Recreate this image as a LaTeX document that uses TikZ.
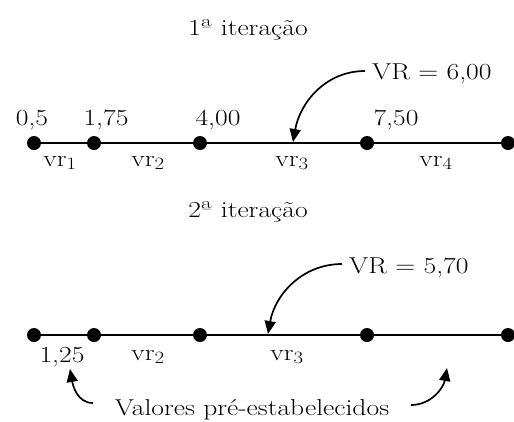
\documentclass[tikz,border=0pt]{standalone}
\usepackage{graphicx}
\usetikzlibrary{arrows.meta}
\newcommand{\wtxt}[1]{\scalebox{1.2}[1]{#1}}
\begin{document}
\begin{tikzpicture}[x=1pt,y=-1pt,
  dot/.style={circle,fill=black,inner sep=0pt,minimum size=14pt},
  lbl/.style={font=\fontsize{23}{26}\selectfont,inner sep=0pt},
  axis/.style={line width=1.8pt},
  curvearrow/.style={line width=1.7pt,-{Triangle[length=13pt,width=11pt]}}]
\useasboundingbox (0,0) rectangle (514,421);
% ---- first iteration
\node[lbl] (t1) at (248,30) {\wtxt{1ª iteração}};
\node[dot] (a1) at (34,143) {};
\node[dot] (a2) at (94,143) {};
\node[dot] (a3) at (200,143) {};
\node[dot] (a4) at (367,143) {};
\node[dot] (a5) at (508,143) {};
\draw[axis] (a1) -- (a2) -- (a3) -- (a4) -- (a5);
\node[lbl] (n1) at (32,120) {\wtxt{0,5}};
\node[lbl] (n2) at (106,120) {\wtxt{1,75}};
\node[lbl] (n3) at (218,120) {\wtxt{4,00}};
\node[lbl] (n4) at (396,120) {\wtxt{7,50}};
\node[lbl] (v1) at (60,163) {\wtxt{vr$_1$}};
\node[lbl] (v2) at (148,163) {\wtxt{vr$_2$}};
\node[lbl] (v3) at (292,163) {\wtxt{vr$_3$}};
\node[lbl] (v4) at (436,163) {\wtxt{vr$_4$}};
\node[lbl,anchor=west] (vr1) at (372,74) {\wtxt{VR = 6,00}};
\coordinate (s1) at (365,71);
\coordinate (p1) at (293,142);
\draw[curvearrow] (s1) to[out=180,in=80] (p1);
% ---- second iteration
\node[lbl] (t2) at (248,212) {\wtxt{2ª iteração}};
\node[dot] (b1) at (34,335) {};
\node[dot] (b2) at (94,335) {};
\node[dot] (b3) at (200,335) {};
\node[dot] (b4) at (367,335) {};
\node[dot] (b5) at (508,335) {};
\draw[axis] (b1) -- (b2) -- (b3) -- (b4) -- (b5);
\node[lbl] (m1) at (62,357) {\wtxt{1,25}};
\node[lbl] (w2) at (148,357) {\wtxt{vr$_2$}};
\node[lbl] (w3) at (287,357) {\wtxt{vr$_3$}};
\node[lbl,anchor=west] (vr2) at (349,268) {\wtxt{VR = 5,70}};
\coordinate (s2) at (342,264);
\coordinate (p2) at (268,334);
\draw[curvearrow] (s2) to[out=180,in=80] (p2);
\node[lbl] (pre) at (252,410) {\wtxt{Valores pré-estabelecidos}};
\coordinate (l1) at (93,403);
\coordinate (l2) at (70,369);
\coordinate (r1) at (411,405);
\coordinate (r2) at (447,368);
\draw[curvearrow] (l1) to[out=180,in=-80] (l2);
\draw[curvearrow] (r1) to[out=0,in=-100] (r2);
\end{tikzpicture}
\end{document}
